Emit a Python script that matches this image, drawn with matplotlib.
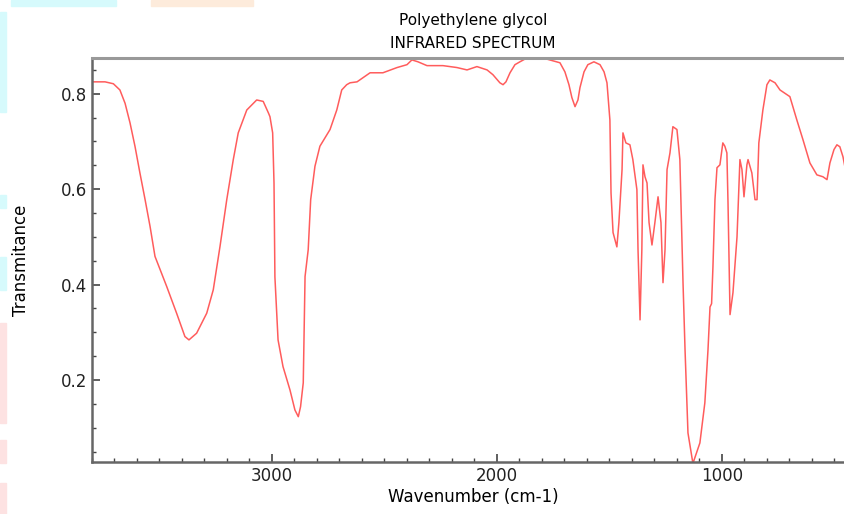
import numpy as np
import matplotlib
matplotlib.use("Agg")
import matplotlib.pyplot as plt
from matplotlib.ticker import MultipleLocator
from matplotlib.patches import Rectangle

# IR spectrum of polyethylene glycol
wavenumber = [3800, 3742, 3705, 3676, 3653, 3631, 3609, 3587, 3564, 3542,
              3520, 3468, 3424, 3387, 3369, 3335, 3290, 3261, 3231, 3201,
              3172, 3150, 3112, 3068, 3039, 3016, 3009, 2997, 2991, 2987,
              2973, 2951, 2920, 2898, 2883, 2873, 2861, 2856, 2853, 2839,
              2828, 2809, 2787, 2742, 2712, 2690, 2668, 2653, 2622,
              2564, 2507, 2444, 2400, 2378, 2351, 2311, 2240, 2178, 2133,
              2089, 2044, 2018, 1987, 1973, 1960, 1942, 1920, 1898, 1867,
              1796, 1720, 1698, 1680, 1667, 1653, 1640, 1631, 1613, 1596,
              1569, 1542, 1524, 1511, 1498, 1493, 1484, 1467, 1458,
              1444, 1440, 1427, 1409, 1396, 1378, 1373, 1364, 1356, 1351,
              1342, 1333, 1324, 1311, 1298, 1284, 1271, 1262, 1253, 1244,
              1231, 1218, 1200, 1187, 1173, 1164, 1151, 1129, 1098, 1076,
              1062, 1053, 1046, 1040, 1031, 1022, 1009, 996, 987, 978,
              973, 964, 951, 933, 920, 911, 902, 889, 884, 867,
              853, 844, 836, 818, 800, 787, 764, 742, 698, 667,
              640, 609, 578, 551, 533, 520, 502, 489, 476, 462,
              449, 430]
transmitance = [0.825, 0.825, 0.821, 0.808, 0.780, 0.739, 0.690, 0.634, 0.578, 0.522,
                0.459, 0.396, 0.340, 0.291, 0.284, 0.298, 0.340, 0.389, 0.480, 0.578,
                0.662, 0.718, 0.766, 0.787, 0.784, 0.760, 0.752, 0.718, 0.613, 0.416,
                0.284, 0.228, 0.179, 0.137, 0.123, 0.144, 0.194, 0.333, 0.417, 0.473,
                0.578, 0.648, 0.690, 0.725, 0.766, 0.808, 0.819, 0.823, 0.825,
                0.844, 0.844, 0.855, 0.861, 0.871, 0.867, 0.859, 0.859, 0.855, 0.850,
                0.857, 0.850, 0.840, 0.823, 0.819, 0.825, 0.844, 0.861, 0.867, 0.875,
                0.875, 0.865, 0.846, 0.819, 0.792, 0.773, 0.787, 0.813, 0.846, 0.861,
                0.867, 0.861, 0.846, 0.823, 0.745, 0.592, 0.509, 0.479, 0.530,
                0.641, 0.718, 0.697, 0.693, 0.662, 0.599, 0.473, 0.326, 0.473, 0.651,
                0.626, 0.613, 0.530, 0.483, 0.530, 0.584, 0.530, 0.404, 0.473, 0.641,
                0.676, 0.731, 0.725, 0.662, 0.404, 0.263, 0.089, 0.025, 0.068, 0.152,
                0.263, 0.353, 0.360, 0.437, 0.578, 0.645, 0.651, 0.697, 0.690, 0.676,
                0.571, 0.337, 0.383, 0.500, 0.662, 0.641, 0.584, 0.651, 0.662, 0.634,
                0.578, 0.578, 0.697, 0.766, 0.819, 0.829, 0.823, 0.808, 0.794, 0.745,
                0.704, 0.655, 0.630, 0.626, 0.620, 0.655, 0.683, 0.693, 0.689, 0.668,
                0.636, 0.600]

fig = plt.figure(figsize=(8.45, 5.14), dpi=100)

# faint coloured smudges along the edges of the original screenshot
for (x0, y0, w, h, c) in [(11, 0, 105, 6, '#d6fafc'), (151, 0, 102, 6, '#fdebdb'),
                          (0, 12, 6, 100, '#d6fafc'), (0, 195, 6, 13, '#d6fafc'),
                          (0, 257, 6, 33, '#d6fafc'), (0, 323, 6, 100, '#fde2e2'),
                          (0, 440, 6, 23, '#fde2e2'), (0, 483, 6, 31, '#fde2e2')]:
    fig.patches.append(Rectangle((x0 / 845, 1 - (y0 + h) / 514), w / 845, h / 514,
                                 transform=fig.transFigure, color=c, zorder=0))

ax = fig.add_axes([92 / 845, 1 - 462 / 514, 762 / 845, 404 / 514])
ax.plot(wavenumber, transmitance, color='#ff5c5c', lw=1.1)

ax.set_xlim(3800, 413)
ax.set_ylim(0.028, 0.875)
ax.xaxis.set_major_locator(MultipleLocator(1000))
ax.xaxis.set_minor_locator(MultipleLocator(100))
ax.yaxis.set_major_locator(MultipleLocator(0.2))
ax.yaxis.set_minor_locator(MultipleLocator(0.05))
ax.tick_params(which='both', direction='in', colors='#444444', labelcolor='#222222', labelsize=12)
ax.tick_params(which='major', length=6, width=1.2)
ax.tick_params(which='minor', length=3, width=1)

ax.spines['top'].set_color('#999999')
ax.spines['top'].set_linewidth(2.2)
ax.spines['right'].set_visible(False)
for s in ['left', 'bottom']:
    ax.spines[s].set_color('#666666')
    ax.spines[s].set_linewidth(1.8)

ax.set_title('Polyethylene glycol\nINFRARED SPECTRUM', fontsize=11, linespacing=1.7, pad=7)
ax.set_xlabel('Wavenumber (cm-1)', fontsize=12, labelpad=2)
ax.set_ylabel('Transmitance', fontsize=12, labelpad=22)

fig.savefig('out.png', dpi=100)
